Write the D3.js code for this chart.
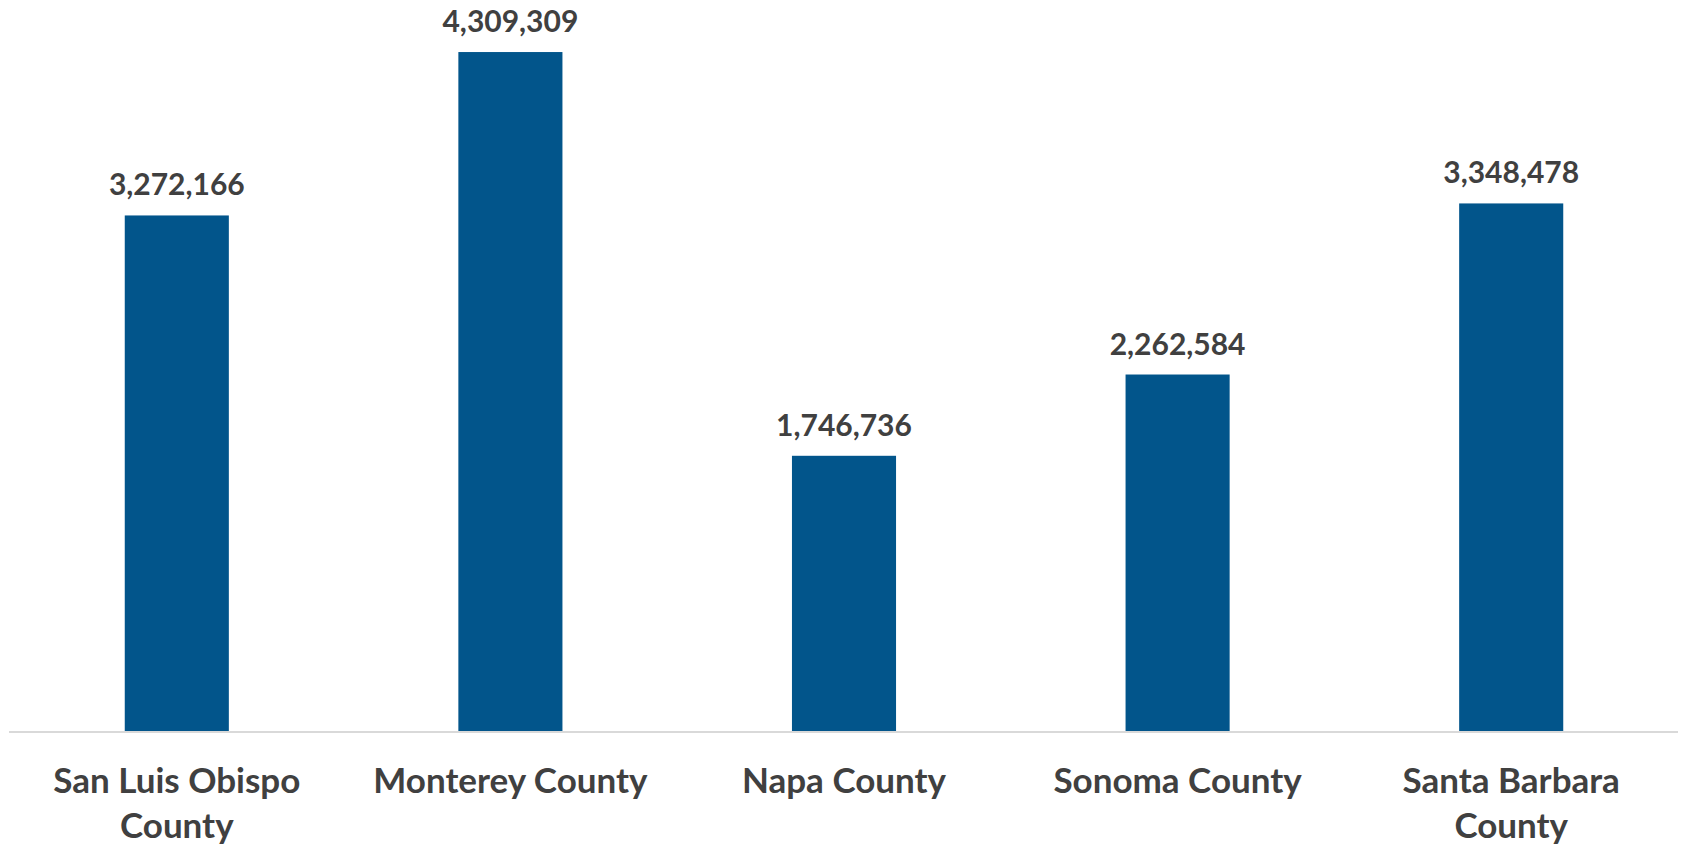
<!DOCTYPE html>
<html lang="en">
<head>
    <meta charset="UTF-8">
    <title>County totals</title>
    <script src="https://d3js.org/d3.v7.min.js"></script>
    <style>
        html, body { margin: 0; padding: 0; background: #fff; }
        svg { display: block; }
        .value-label { font-family: Lato, "Noto Sans", sans-serif; font-weight: 700; fill: #404040; }
        .cat-label { font-family: Lato, "Noto Sans", sans-serif; font-weight: 700; fill: #404040; }
    </style>
</head>
<body>
    <div id="chart"></div>
    <script>
        // Chart data
        const counties = ['San Luis Obispo County', 'Monterey County', 'Napa County', 'Sonoma County', 'Santa Barbara County'];
        const totals = [3272166, 4309309, 1746736, 2262584, 3348478];
        const yMax = 4500000;

        const width = 1683, height = 845;
        const margin = {top: 22, right: 5, bottom: 114, left: 10};
        const innerWidth = width - margin.left - margin.right;
        const innerHeight = height - margin.top - margin.bottom;

        const svg = d3.select('#chart')
            .append('svg')
            .attr('width', width)
            .attr('height', height);

        const g = svg.append('g')
            .attr('transform', `translate(${margin.left},${margin.top})`);

        const x = d3.scaleBand()
            .domain(counties)
            .range([0, innerWidth])
            .paddingInner(0.688)
            .paddingOuter(0.344);

        const y = d3.scaleLinear()
            .domain([0, yMax])
            .range([innerHeight, 0]);

        const data = counties.map((c, i) => ({county: c, value: totals[i]}));

        g.selectAll('rect.bar')
            .data(data)
            .join('rect')
            .attr('class', 'bar')
            .attr('x', d => x(d.county))
            .attr('y', d => y(d.value))
            .attr('width', x.bandwidth())
            .attr('height', d => innerHeight - y(d.value))
            .attr('fill', '#02558B');

        // baseline
        g.append('line')
            .attr('x1', -1)
            .attr('x2', innerWidth)
            .attr('y1', innerHeight + 1)
            .attr('y2', innerHeight + 1)
            .attr('stroke', '#D9D9D9')
            .attr('stroke-width', 2);

        const fmt = d3.format(',');
        g.selectAll('text.value-label')
            .data(data)
            .join('text')
            .attr('class', 'value-label')
            .attr('x', d => x(d.county) + x.bandwidth() / 2)
            .attr('y', d => y(d.value) - 20)
            .attr('text-anchor', 'middle')
            .attr('font-size', 30)
            .text(d => fmt(d.value));

        // category labels, wrapped to fit under each bar slot
        const wrapWidth = x.step() * 0.88;
        const catG = g.append('g')
            .attr('transform', `translate(0,${innerHeight})`);

        catG.selectAll('text.cat-label')
            .data(counties)
            .join('text')
            .attr('class', 'cat-label')
            .attr('text-anchor', 'middle')
            .attr('font-size', 35)
            .attr('x', d => x(d) + x.bandwidth() / 2)
            .attr('y', 62)
            .each(function(d) {
                const t = d3.select(this);
                const words = d.split(' ');
                let line = [];
                let lines = [];
                const tspan = t.append('tspan');
                words.forEach(w => {
                    line.push(w);
                    tspan.text(line.join(' '));
                    if (tspan.node().getComputedTextLength() > wrapWidth && line.length > 1) {
                        line.pop();
                        lines.push(line.join(' '));
                        line = [w];
                    }
                });
                lines.push(line.join(' '));
                t.text(null);
                const cx = x(d) + x.bandwidth() / 2;
                lines.forEach((l, i) => {
                    t.append('tspan')
                        .attr('x', cx)
                        .attr('dy', i === 0 ? 0 : 45)
                        .text(l);
                });
            });
    </script>
</body>
</html>
